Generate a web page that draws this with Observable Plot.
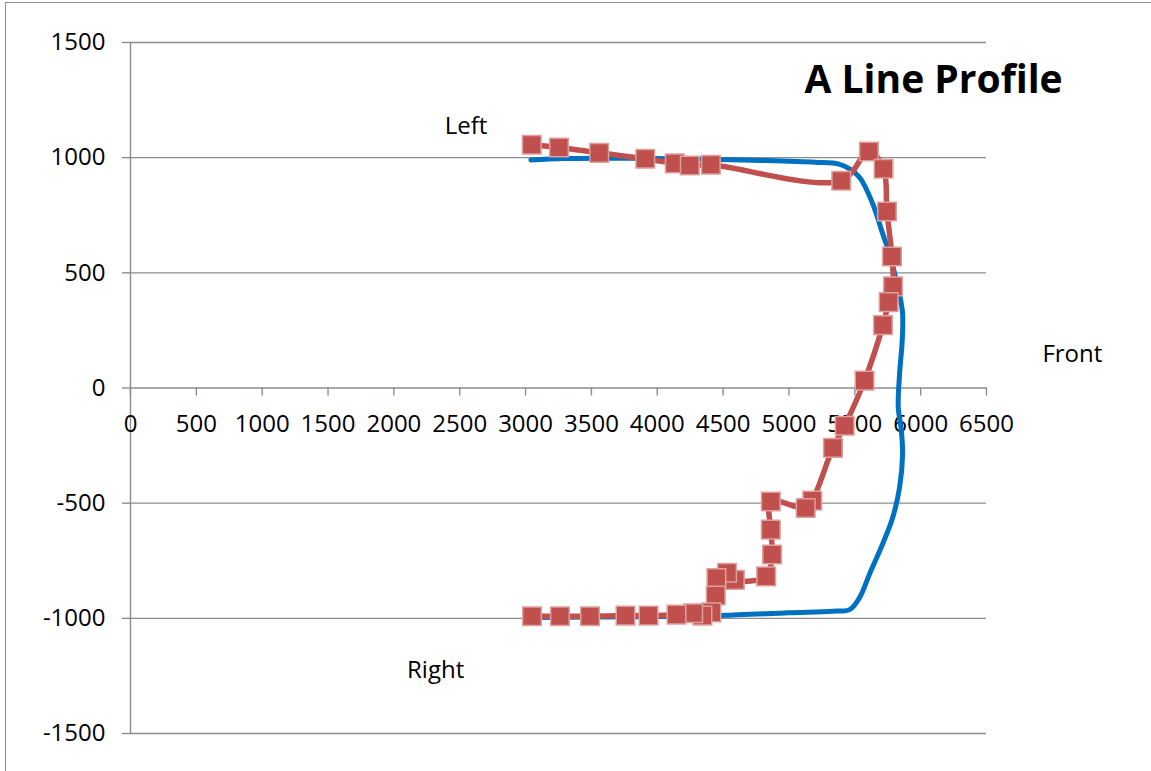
<!DOCTYPE html>
<html>
<head>
<meta charset="utf-8">
<script src="https://cdn.jsdelivr.net/npm/d3@7"></script>
<script src="https://cdn.jsdelivr.net/npm/@observablehq/plot@0.6"></script>
<style>
  html, body { margin: 0; padding: 0; background: #fff; overflow: hidden; }
  #wrap { position: relative; width: 1151px; height: 771px; overflow: hidden; }
  #frame { position: absolute; left: 4.5px; top: 1.5px; width: 1300px; height: 900px; border: 1.5px solid #8c8c8c; box-sizing: border-box; }
  #chart { position: absolute; left: 0; top: 0; }
</style>
</head>
<body>
<div id="wrap"><div id="frame"></div><div id="chart"></div></div>
<script>
// Tick values
const xTicks = [0, 500, 1000, 1500, 2000, 2500, 3000, 3500, 4000, 4500, 5000, 5500, 6000, 6500];
const yTicks = [-1500, -1000, -500, 0, 500, 1000, 1500];

// Series 1 (blue smooth outline)
const blueX = [3040, 3300, 3800, 4300, 4800, 5200, 5380, 5450, 5537, 5636, 5712, 5765, 5803, 5840, 5863, 5860, 5840, 5830, 5851, 5863, 5840, 5788, 5712, 5613, 5537, 5461, 5333, 5000, 4475, 3900, 3050];
const blueY = [990, 996, 997, 994, 988, 980, 972, 955, 914, 800, 669, 582, 495, 408, 322, 205, 62, -86, -171, -286, -431, -562, -676, -806, -909, -962, -969, -976, -988, -993, -996];

// Series 2 (red measured profile with square markers)
const redX = [3047, 3254, 3559, 3909, 4133, 4247, 4407, 5397, 5607, 5718, 5744, 5782, 5790, 5757, 5714, 5574, 5423, 5334, 5177, 5127, 4862, 4862, 4872, 4827, 4589, 4530, 4449, 4444, 4411, 4343, 4273, 4146, 3934, 3759, 3489, 3261, 3049];
const redY = [1056, 1044, 1021, 995, 975, 966, 969, 900, 1027, 952, 766, 571, 441, 373, 273, 32, -164, -260, -489, -521, -493, -615, -723, -818, -833, -802, -825, -901, -974, -988, -978, -984, -988, -988, -991, -991, -991];

// Annotations
const noteText = ["Left", "Right", "Front"];
const noteX = [2548, 2317, 7152];
const noteY = [1134, -1227, 145];
const titleText = ["A Line Profile"];
const titleX = [6098];
const titleY = [1334];

const blue = blueX.map((x, i) => ({x, y: blueY[i]}));
const red = redX.map((x, i) => ({x, y: redY[i]}));
const notes = noteText.map((t, i) => ({t, x: noteX[i], y: noteY[i]}));
const titles = titleText.map((t, i) => ({t, x: titleX[i], y: titleY[i]}));

const FONT = "'Open Sans', sans-serif";
const GRID = "#8c8c8c";

const chart = Plot.plot({
  width: 1151,
  height: 771,
  marginLeft: 130,
  marginRight: 165,
  marginTop: 42,
  marginBottom: 38,
  style: {fontFamily: FONT, fontSize: "24px", color: "#000", background: "transparent", overflow: "visible"},
  x: {domain: [0, 6500], axis: null},
  y: {domain: [-1500, 1500], axis: null},
  marks: [
    Plot.gridY(yTicks, {stroke: GRID, strokeOpacity: 1, strokeWidth: 1.4}),
    Plot.axisY(yTicks, {tickSize: 8, tickPadding: 17, stroke: GRID, strokeWidth: 1.4, fontSize: 24, fill: "#000", tickFormat: d => String(d), label: null}),
    Plot.ruleX([0], {y1: -1500, y2: 1500, stroke: GRID, strokeWidth: 1.4}),
    Plot.ruleX(xTicks, {x: d => d, y1: 0, y2: 0, insetBottom: -8, stroke: GRID, strokeWidth: 1.4}),
    Plot.text(xTicks, {x: d => d, y: 0, text: d => String(d), dy: 36, fontSize: 24, fill: "#000", lineAnchor: "middle"}),
    Plot.line(blue, {x: "x", y: "y", curve: "catmull-rom", stroke: "#0070C0", strokeWidth: 5, strokeLinecap: "round", strokeLinejoin: "round"}),
    Plot.line(red, {x: "x", y: "y", curve: "catmull-rom", stroke: "#C0504D", strokeWidth: 5.5, strokeLinejoin: "round"}),
    Plot.dot(red, {x: "x", y: "y", symbol: "square", r: 10.5, fill: "#C0504D", stroke: "#DDA09E", strokeWidth: 1.5}),
    Plot.text(notes, {x: "x", y: "y", text: "t", fontSize: 24, fill: "#000", lineAnchor: "middle"}),
    Plot.text(titles, {x: "x", y: "y", text: "t", fontSize: 39, fontWeight: "bold", fill: "#000", lineAnchor: "middle"})
  ]
});
document.getElementById("chart").appendChild(chart);
</script>
</body>
</html>
